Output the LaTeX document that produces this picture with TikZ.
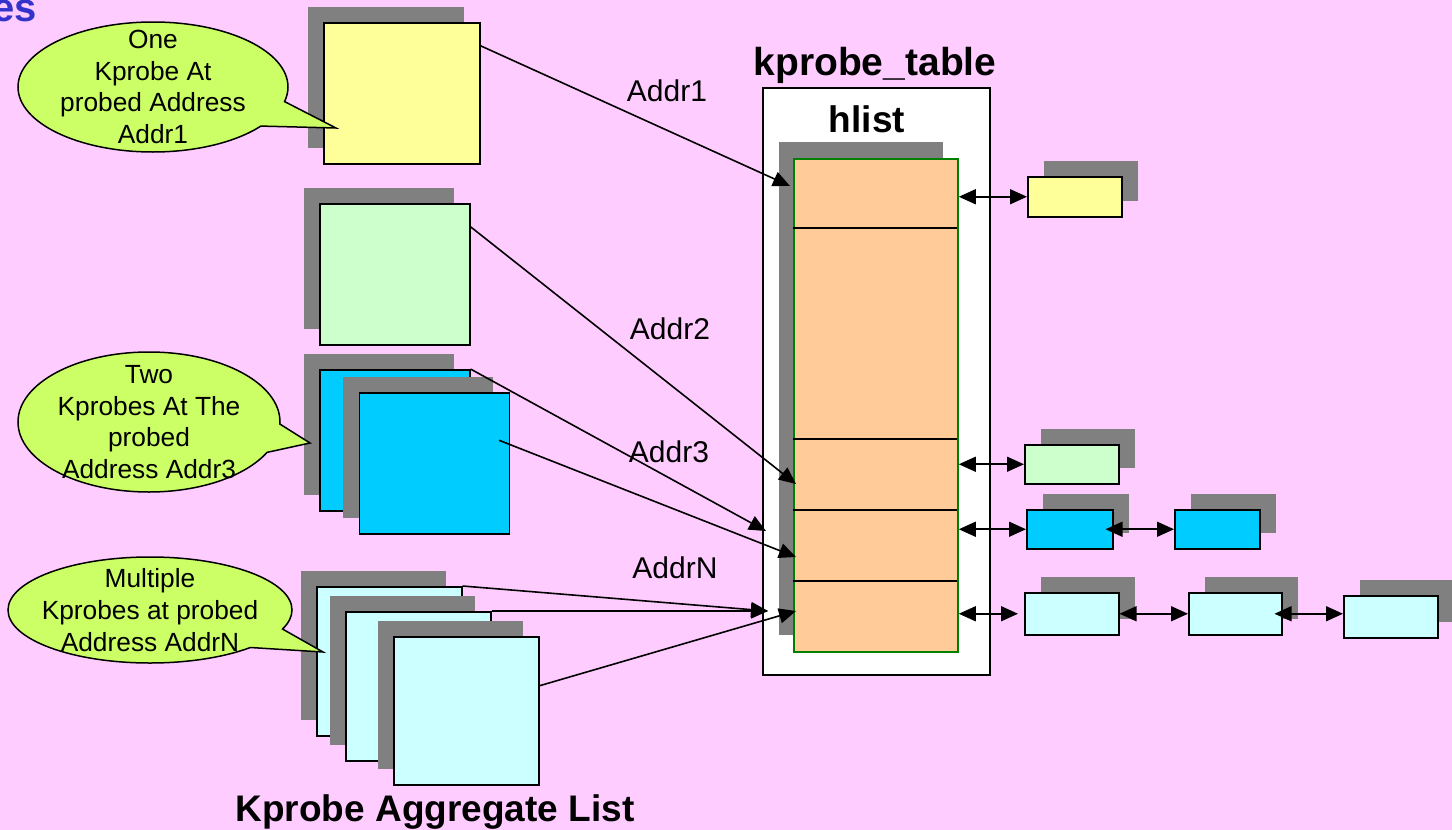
\documentclass[tikz,border=0pt]{standalone}
\usepackage{fontspec}
\setmainfont{Liberation Sans}
\usetikzlibrary{arrows.meta,shadows,shapes.callouts}

\definecolor{pagepink}{HTML}{FFCCFF}
\definecolor{probeyellow}{HTML}{FFFF99}
\definecolor{probegreen}{HTML}{CCFFCC}
\definecolor{probeblue}{HTML}{00CCFF}
\definecolor{probecyan}{HTML}{CCFFFF}
\definecolor{slotpeach}{HTML}{FFCC99}
\definecolor{slotborder}{HTML}{008000}
\definecolor{bubblegreen}{HTML}{CCFF66}
\definecolor{shade}{HTML}{808080}
\definecolor{headblue}{HTML}{3333CC}

\begin{document}
\begin{tikzpicture}[x=1pt, y=-1pt,
  probe/.style={draw=black, line width=1.5pt, inner sep=0pt, anchor=north west,
    general shadow={fill=shade, shadow xshift=-16pt, shadow yshift=16pt}},
  chainbox/.style={draw=black, line width=1.5pt, inner sep=0pt, anchor=north west,
    general shadow={fill=shade, shadow xshift=16pt, shadow yshift=16pt}},
  link/.style={-{Triangle[length=17pt,width=15pt]}, line width=1.6pt},
  dlink/.style={{Triangle[length=17pt,width=15pt]}-{Triangle[length=17pt,width=15pt]}, line width=1.6pt},
  bubble/.style={ellipse callout, draw=black, line width=1.5pt, fill=bubblegreen,
    inner sep=0pt, callout pointer arc=24},
  bubbletext/.style={align=center, font=\fontsize{26.3}{31.8}\selectfont},
  addr/.style={font=\fontsize{30}{36}\selectfont},
  heading/.style={font=\fontsize{37}{44}\selectfont\bfseries}
]
\useasboundingbox (0,0) rectangle (1452,830);
\fill[pagepink] (0,0) rectangle (1452,830);

% heading fragment at the top left
\node[anchor=base east, inner sep=0pt, text=headblue, font=\fontsize{40}{48}\selectfont\bfseries] (head) at (37,21) {es};

% kprobe_table with its hlist column
\node[draw=black, line width=1.5pt, fill=white, inner sep=0pt, anchor=north west,
      minimum width=227pt, minimum height=587pt] (tbl) at (762,87) {};
\node[heading, font=\fontsize{39}{46}\selectfont\bfseries, anchor=base] (tbltitle) at (875,75) {kprobe\_table};
\node[heading, anchor=base] (hl) at (867,132) {hlist};
\node[draw=slotborder, line width=1.8pt, fill=slotpeach, inner sep=0pt, anchor=north west,
      minimum width=164pt, minimum height=493pt,
      general shadow={fill=shade, shadow xshift=-15pt, shadow yshift=17pt}] (col) at (793,158) {};
\foreach \yy in {228,439,510,581}
  \draw[line width=1.5pt] (793,\yy) -- (957,\yy);

% kprobes on the left
\node[probe, fill=probeyellow, minimum width=156pt, minimum height=141pt] (y1) at (323,22) {};
\node[probe, fill=probegreen, minimum width=150pt, minimum height=141pt] (g1) at (319,203) {};
\node[probe, fill=probeblue, minimum width=150pt, minimum height=141pt] (b1) at (319,369) {};
\node[probe, fill=probeblue, minimum width=150pt, minimum height=141pt] (b2) at (358.5,392) {};
\node[probe, fill=probecyan, minimum width=145pt, minimum height=149pt] (n1) at (316,586) {};
\node[probe, fill=probecyan, minimum width=145pt, minimum height=149pt] (n2) at (345,611) {};
\node[probe, fill=probecyan, minimum width=145pt, minimum height=148pt] (n3) at (393,636) {};
\node[heading, anchor=base] (agg) at (435,821) {Kprobe Aggregate List};

% hash chains on the right
\node[chainbox, fill=probeyellow, minimum width=94pt, minimum height=40pt] (ry) at (1027,176) {};
\node[chainbox, fill=probegreen, minimum width=94pt, minimum height=39pt] (rg) at (1024,444) {};
\node[chainbox, fill=probeblue, minimum width=86pt, minimum height=39pt] (rb1) at (1026,509) {};
\node[chainbox, fill=probeblue, minimum width=85pt, minimum height=39pt] (rb2) at (1174,509) {};
\node[chainbox, fill=probecyan, minimum width=94pt, minimum height=42pt] (rc1) at (1024,592) {};
\node[chainbox, fill=probecyan, minimum width=93pt, minimum height=42pt] (rc2) at (1188,592) {};
\node[chainbox, fill=probecyan, minimum width=94pt, minimum height=42pt] (rc3) at (1343,595) {};

% arrow targets at the hash slots
\coordinate (t1) at (790,186);
\coordinate (t2) at (796,484);
\coordinate (t3a) at (766,531);
\coordinate (t3b) at (796,557);
\coordinate (tNa) at (768,611);
\coordinate (tNb) at (796,611);

\draw[link] ([yshift=47.5pt]y1.east) -- (t1);
\draw[link] ([yshift=47.5pt]g1.east) -- (t2);
\draw[link] (b1.north east) -- (t3a);
\draw[link] ([xshift=-11pt,yshift=23pt]b2.east) -- (t3b);
\draw[link] (n1.north east) -- (tNa);
\draw[link] (n2.north east) -- (tNa);
\draw[link] ([yshift=25pt]n3.east) -- (tNb);

\node[addr] (l1) at (667,91) {Addr1};
\node[addr] (l2) at (670,329) {Addr2};
\node[addr] (l3) at (669,452) {Addr3};
\node[addr] (lN) at (675,568) {AddrN};

% doubly linked hash chains
\draw[dlink] (ry.west -| col.east) -- (ry.west);
\draw[dlink] (rg.west -| col.east) -- (rg.west);
\draw[dlink] (rb1.west -| col.east) -- (rb1.west);
\draw[dlink] ([xshift=-8pt]rb1.east) -- (rb2.west);
\draw[dlink] (rc1.west -| col.east) -- ([xshift=-6pt]rc1.west);
\draw[dlink] (rc1.east) -- (rc2.west);
\draw[dlink] ([xshift=-8pt]rc2.east) -- (rc2.east -| rc3.west);

% speech bubbles
\node[bubble, minimum width=270pt, minimum height=130pt, callout absolute pointer={(336,128)}] (c1) at (153,87) {};
\node[bubbletext] (c1t) at (c1.center) {One\\Kprobe At\\probed Address\\Addr1};
\node[bubble, minimum width=262pt, minimum height=140pt, callout absolute pointer={(310,443)}] (c2) at (149,422) {};
\node[bubbletext] (c2t) at (c2.center) {Two\\Kprobes At The\\probed\\Address Addr3};
\node[bubble, minimum width=284pt, minimum height=106pt, callout absolute pointer={(323,652)}] (c3) at (150,610) {};
\node[bubbletext] (c3t) at (c3.center) {Multiple\\Kprobes at probed\\Address AddrN};
\end{tikzpicture}
\end{document}
